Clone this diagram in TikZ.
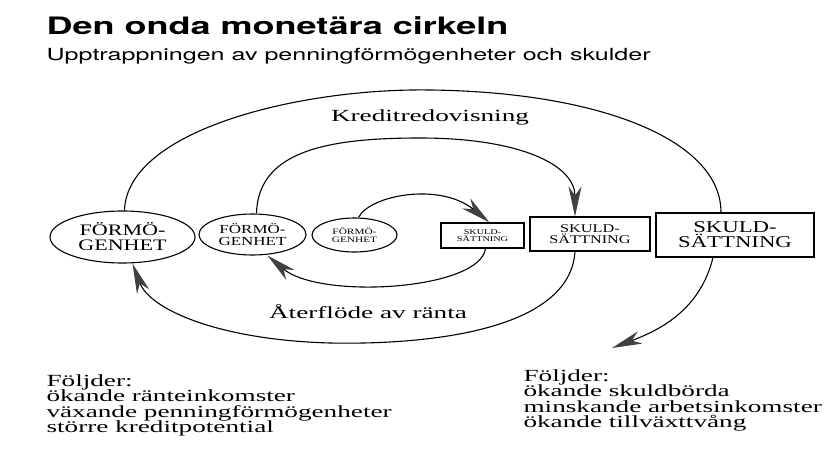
\documentclass[tikz,border=0pt]{standalone}
\usepackage{fontspec}
\setmainfont{Liberation Serif}[FakeStretch=1.6]
\newfontfamily\capsfont{Liberation Serif}[FakeStretch=1.38]
\newfontfamily\headfont{texgyreheros}[Extension=.otf,UprightFont=*-regular,BoldFont=*-bold,FakeStretch=1.5]
\newfontfamily\titlefont{texgyreheros-bold}[Extension=.otf]
\usetikzlibrary{shapes.geometric,arrows.meta}
\tikzset{
  asset/.style={ellipse,draw,line width=1.1pt,inner sep=0pt,align=center},
  debt/.style={rectangle,draw,line width=1.1pt,inner sep=0pt,align=center},
  flow/.style={line width=1.1pt},
  tipped/.style={-{Stealth[length=30pt,width=13pt,inset=9pt,color=black!75]}}
}
\begin{document}
\begin{tikzpicture}[x=1pt,y=-1pt]
        \useasboundingbox (0,0) rectangle (835,452);
        \node[anchor=base west,font=\titlefont\fontsize{24}{28}\selectfont] (title) at (43,35) {\scalebox{1.5}[1]{Den onda monetära cirkeln}};
        \node[anchor=base west,font=\headfont\fontsize{16.7}{20}\selectfont] (sub) at (43,60) {Upptrappningen av penningförmögenheter och skulder};
        \node[asset,minimum width=145pt,minimum height=52pt,font=\capsfont\fontsize{16}{15}\selectfont] (f1) at (122.5,237) {FÖRMÖ-\\GENHET};
        \node[asset,minimum width=107pt,minimum height=41pt,font=\capsfont\fontsize{12.3}{11.3}\selectfont] (f2) at (252.5,234.5) {FÖRMÖ-\\GENHET};
        \node[asset,minimum width=85pt,minimum height=34pt,font=\capsfont\fontsize{8.2}{7.6}\selectfont] (f3) at (354.5,235) {FÖRMÖ-\\GENHET};
        \node[debt,minimum width=83pt,minimum height=25pt,font=\capsfont\fontsize{7.4}{6.9}\selectfont] (s1) at (482.5,235.5) {SKULD-\\SÄTTNING};
        \node[debt,minimum width=120pt,minimum height=34pt,font=\capsfont\fontsize{11.8}{11}\selectfont] (s2) at (590,234) {SKULD-\\SÄTTNING};
        \node[debt,minimum width=158pt,minimum height=44pt,font=\capsfont\fontsize{16.5}{15}\selectfont] (s3) at (735,235) {SKULD-\\SÄTTNING};
        \node[anchor=base,font=\fontsize{17}{20}\selectfont] (kredit) at (430,121) {Kreditredovisning};
        \node[anchor=base,font=\fontsize{17}{20}\selectfont] (ranta) at (368,318) {Återflöde av ränta};
        \node[anchor=north west,align=left,font=\fontsize{17}{15.5}\selectfont] (left) at (43,371) {Följder:\\ökande ränteinkomster\\växande penningförmögenheter\\större kreditpotential};
        \node[anchor=north west,align=left,font=\fontsize{17}{15.5}\selectfont] (right) at (520,366) {Följder:\\ökande skuldbörda\\minskande arbetsinkomster\\ökande tillväxttvång};
        \coordinate (out) at (612,348);
        \draw[flow] ([xshift=2pt]f1.north) .. controls (127,130) and (300,88) .. (430,90) .. controls (600,92) and (721,140) .. ([xshift=-14pt]s3.north);
        \draw[flow,tipped] ([xshift=4pt]f2.north) .. controls (258,150) and (330,138) .. (420,138) .. controls (520,138) and (575,165) .. ([xshift=-15pt]s2.north);
        \draw[flow,tipped] ([xshift=4pt]f3.north) .. controls (370,195) and (440,182) .. ([xshift=7pt]s1.north);
        \draw[flow,tipped] ([xshift=3pt]s1.south) .. controls (480,290) and (320,300) .. ([xshift=15pt]f2.south);
        \draw[flow,tipped] ([xshift=-15pt]s2.south) .. controls (570,330) and (430,345) .. (330,343) .. controls (220,340) and (150,310) .. ([xshift=10pt]f1.south);
        \draw[flow,tipped] ([xshift=-22pt]s3.south) .. controls (700,310) and (660,330) .. (out);
        \end{tikzpicture}
\end{document}
